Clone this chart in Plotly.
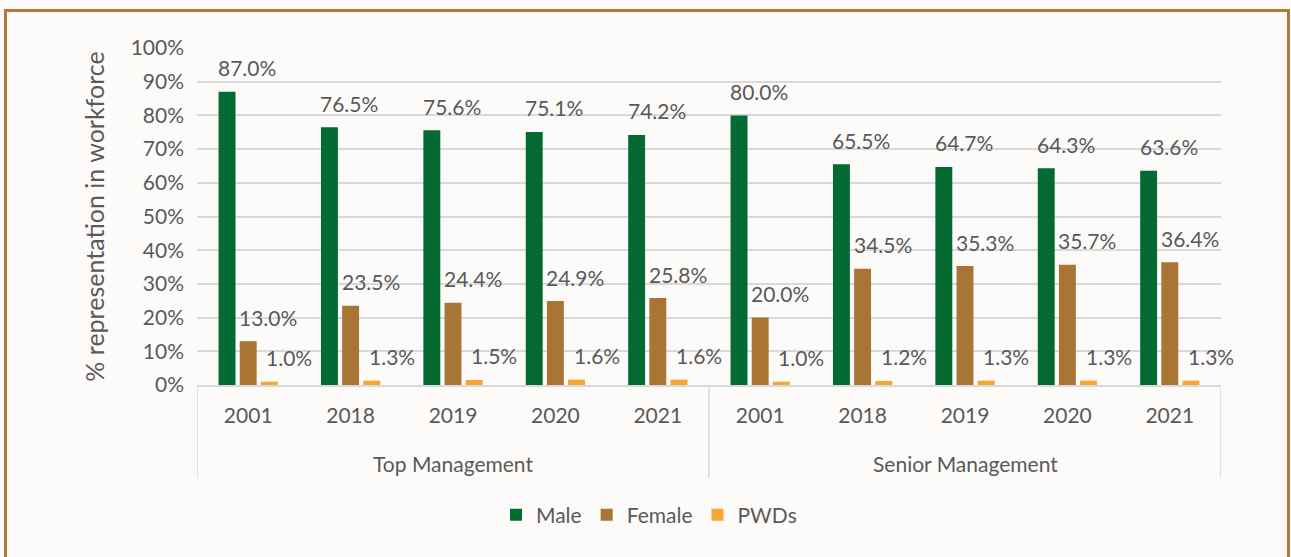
import plotly.graph_objects as go

groups = ["Top Management", "Senior Management"]
years = ["2001", "2018", "2019", "2020", "2021"]
male = [87.0, 76.5, 75.6, 75.1, 74.2, 80.0, 65.5, 64.7, 64.3, 63.6]
female = [13.0, 23.5, 24.4, 24.9, 25.8, 20.0, 34.5, 35.3, 35.7, 36.4]
pwds = [1.0, 1.3, 1.5, 1.6, 1.6, 1.0, 1.2, 1.3, 1.3, 1.3]
series_names = ["Male", "Female", "PWDs"]
colors = ["#036a32", "#a87534", "#f7a533"]
y_ticks = list(range(0, 101, 10))

FONT = "Lato"
GREY = "#595959"
LINE = "#d9d9d9"
W, H = 1291, 557
# plot area in page pixels
X0, X1, Y0, Y1 = 197, 1221, 48, 385
ML, MR, MT, MB = X0, W - X1, Y0, H - Y1
BARGAP = 0.38

n_years = len(years)
cat_years = [y for _ in groups for y in years]
xpos = list(range(len(cat_years)))

fig = go.Figure()
all_series = [male, female, pwds]
for name, vals, col in zip(series_names, all_series, colors):
    fig.add_trace(go.Bar(
        x=xpos, y=vals, name=name,
        marker=dict(color=col, line=dict(width=0)),
        hovertext=[f"{g} {y}" for g in groups for y in years],
        hoverinfo="text+y",
    ))

pw = X1 - X0
ph = Y1 - Y0
def px(xpix):
    return (xpix - X0) / pw
def py(ypix):
    return (Y1 - ypix) / ph

# data labels
slot = (1 - BARGAP) / 3
annotations = []
for k, vals in enumerate(all_series):
    for i, v in enumerate(vals):
        annotations.append(dict(
            x=xpos[i] + (k - 1) * slot, y=v, xref="x", yref="y",
            text=f"{v:.1f}%", showarrow=False,
            xshift=20, yshift=24, yanchor="middle", xanchor="center",
            font=dict(family=FONT, size=21, color=GREY),
        ))

# group labels and dividers
shapes = []
for gi, g in enumerate(groups):
    center = gi * n_years + (n_years - 1) / 2
    annotations.append(dict(
        x=center, y=py(463), xref="x", yref="paper", text=g, showarrow=False,
        xanchor="center", yanchor="middle",
        font=dict(family=FONT, size=21, color=GREY),
    ))
for b in range(len(groups) + 1):
    xb = b * n_years - 0.5
    shapes.append(dict(type="line", xref="x", yref="paper", x0=xb, x1=xb,
                       y0=0, y1=py(478), line=dict(color=LINE, width=1.5)))

shapes.append(dict(type="rect", xref="paper", yref="paper",
                   x0=px(5.5), x1=px(1288.5), y0=py(620), y1=py(10.5),
                   line=dict(color="#b07b3a", width=3), fillcolor="rgba(0,0,0,0)", layer="below"))

fig.update_layout(
    width=W, height=H,
    margin=dict(l=ML, r=MR, t=MT, b=MB),
    paper_bgcolor="#fdfbf9",
    plot_bgcolor="rgba(0,0,0,0)",
    barmode="group", bargap=BARGAP, bargroupgap=0.2,
    font=dict(family=FONT, size=21, color=GREY),
    showlegend=True,
    legend=dict(orientation="h", x=px(649), xanchor="center", y=py(515), yanchor="middle",
                font=dict(family=FONT, size=21, color=GREY), bgcolor="rgba(0,0,0,0)",
                itemwidth=30, traceorder="normal"),
    xaxis=dict(
        type="linear", range=[-0.5, len(xpos) - 0.5], automargin=False,
        tickvals=xpos, ticktext=cat_years,
        showgrid=False, zeroline=False, showline=True, linecolor=LINE, linewidth=1.5,
        ticks="", ticklabelstandoff=11,
        tickfont=dict(family=FONT, size=21, color=GREY),
    ),
    yaxis=dict(
        range=[0, 100], tickvals=y_ticks, ticktext=[f"{t}%" for t in y_ticks],
        automargin=False,
        showgrid=True, gridcolor=LINE, gridwidth=1.5, zeroline=False, showline=False,
        ticks="", ticklabelstandoff=12, tickfont=dict(family=FONT, size=21, color=GREY),
        title=dict(text="% representation in workforce", standoff=18,
                   font=dict(family=FONT, size=25, color=GREY)),
    ),
    annotations=annotations,
    shapes=shapes,
)

fig.write_html(
    "out.html",
    config={"displayModeBar": False},
    post_script="document.body.style.margin='0';document.body.style.overflow='hidden';",
)
